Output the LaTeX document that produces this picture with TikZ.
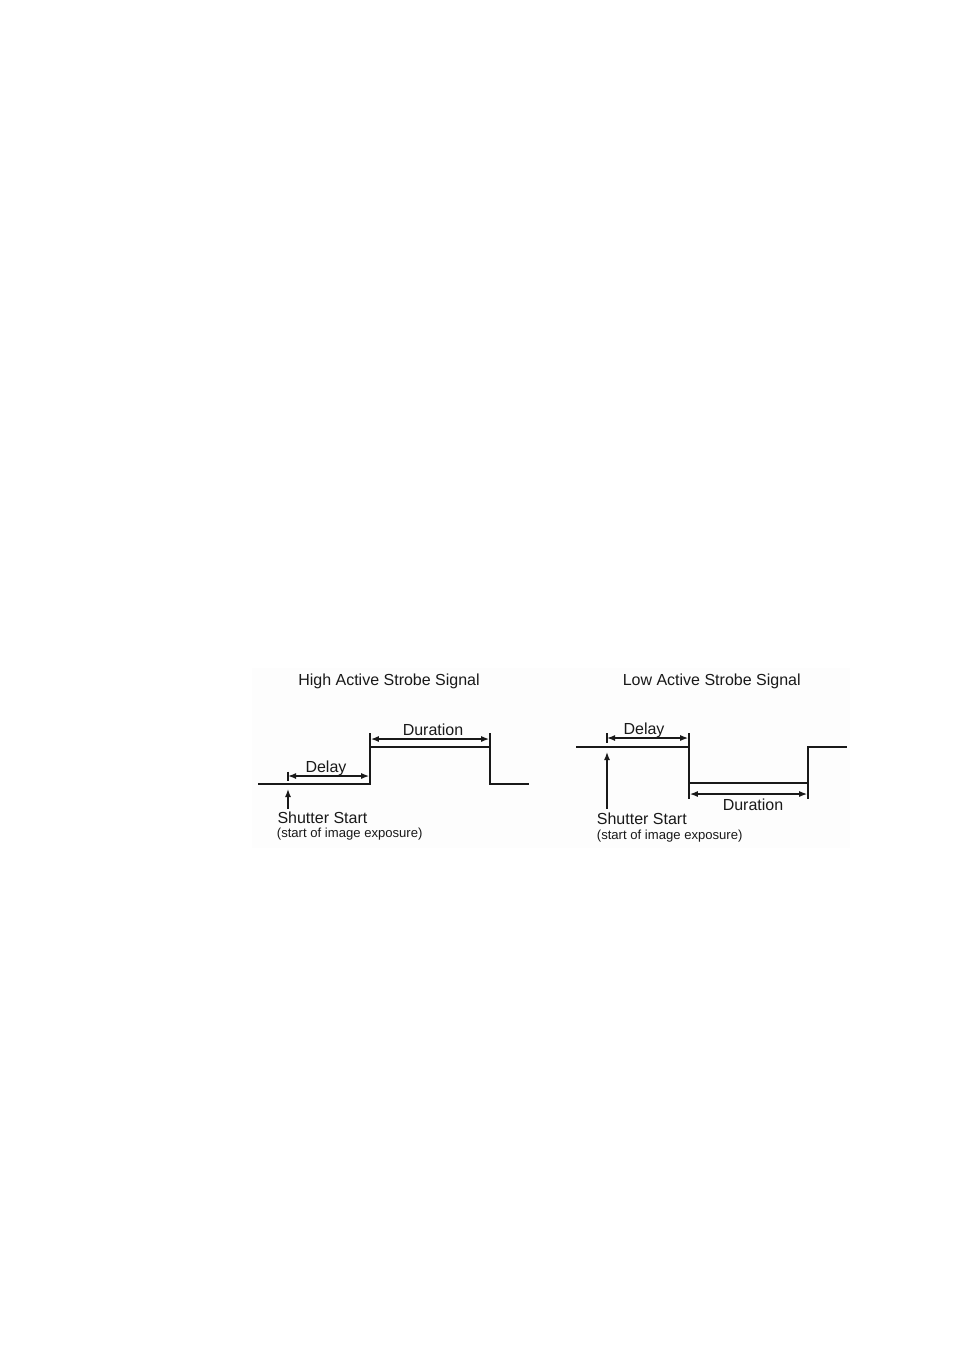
\documentclass[tikz,border=0pt]{standalone}
\usepackage{fontspec}
\setmainfont{Liberation Sans}
\usetikzlibrary{arrows.meta}
\begin{document}
\begin{tikzpicture}[x=1pt,y=-1pt,
  sig/.style={line width=1.6pt, line join=miter, draw=black!90},
  tick/.style={line width=1.4pt, draw=black!90},
  dim/.style={line width=1.4pt, draw=black!90, {Latex[length=8pt,width=6pt]}-{Latex[length=8pt,width=6pt]}},
  uparr/.style={line width=1.4pt, draw=black!90, -{Latex[length=8pt,width=6pt]}},
  lbl/.style={font=\fontsize{16}{19}\selectfont, text=black!90, inner sep=0pt, anchor=base},
  lblw/.style={lbl, anchor=base west},
  small/.style={font=\fontsize{13.1}{15}\selectfont, text=black!90, inner sep=0pt, anchor=base west},
]
\useasboundingbox (0,0) rectangle (954,1350);
\fill[white] (0,0) rectangle (954,1350);
\fill[black!0.8] (252,668) rectangle (850,848);

% ---------- High active ----------
\node[lbl] (tH) at (389,685) {High Active Strobe Signal};
\coordinate (L0) at (258,784);
\coordinate (L1) at (370,784);
\coordinate (L2) at (370,747);
\coordinate (L3) at (490,747);
\coordinate (L4) at (490,784);
\coordinate (L5) at (529,784);
\coordinate (L2t) at (370,732.5);
\coordinate (L3t) at (490,732.5);
\draw[sig] (L0) -- (L1) -- (L2) -- (L3) -- (L4) -- (L5);
\draw[tick] (L2) -- (L2t);
\draw[tick] (L3) -- (L3t);
% delay
\coordinate (LDa) at (288,771.5);
\coordinate (LDb) at (288,781);
\draw[tick] (LDa) -- (LDb);
\coordinate (LD1) at (288,776);
\coordinate (LD2) at (369.2,776);
\draw[dim] (LD1) -- (LD2);
\node[lbl] (dH) at (326,772.3) {Delay};
% duration
\coordinate (LU1) at (370.8,739);
\coordinate (LU2) at (489.2,739);
\draw[dim] (LU1) -- (LU2);
\node[lbl] (uH) at (433,735) {Duration};
% shutter
\coordinate (LS0) at (288,808.5);
\coordinate (LS1) at (288,789);
\draw[uparr] (LS0) -- (LS1);
\node[lblw] (sH) at (277.3,823.5) {Shutter Start};
\node[small] (eH) at (276.7,837.5) {(start of image exposure)};

% ---------- Low active ----------
\node[lbl] (tL) at (711.7,685) {Low Active Strobe Signal};
\coordinate (R0) at (576,747);
\coordinate (R1) at (689,747);
\coordinate (R2) at (689,783);
\coordinate (R3) at (808,783);
\coordinate (R4) at (808,747);
\coordinate (R5) at (847,747);
\draw[sig] (R0) -- (R1) -- (R2) -- (R3) -- (R4) -- (R5);
\coordinate (R1t) at (689,733);
\draw[tick] (R1) -- (R1t);
\coordinate (R2b) at (689,798.5);
\coordinate (R3b) at (808,798.5);
\draw[tick] (R2) -- (R2b);
\draw[tick] (R3) -- (R3b);
% delay
\coordinate (RDa) at (607,733);
\coordinate (RDb) at (607,743);
\draw[tick] (RDa) -- (RDb);
\coordinate (RD1) at (607,738);
\coordinate (RD2) at (688.2,738);
\draw[dim] (RD1) -- (RD2);
\node[lbl] (dL) at (644,734) {Delay};
% duration
\coordinate (RU1) at (689.8,794);
\coordinate (RU2) at (807.2,794);
\draw[dim] (RU1) -- (RU2);
\node[lbl] (uL) at (753,810.7) {Duration};
% shutter
\coordinate (RS0) at (607,808.5);
\coordinate (RS1) at (607,752);
\draw[uparr] (RS0) -- (RS1);
\node[lblw] (sL) at (596.7,824) {Shutter Start};
\node[small] (eL) at (596.7,839) {(start of image exposure)};
\end{tikzpicture}
\end{document}
